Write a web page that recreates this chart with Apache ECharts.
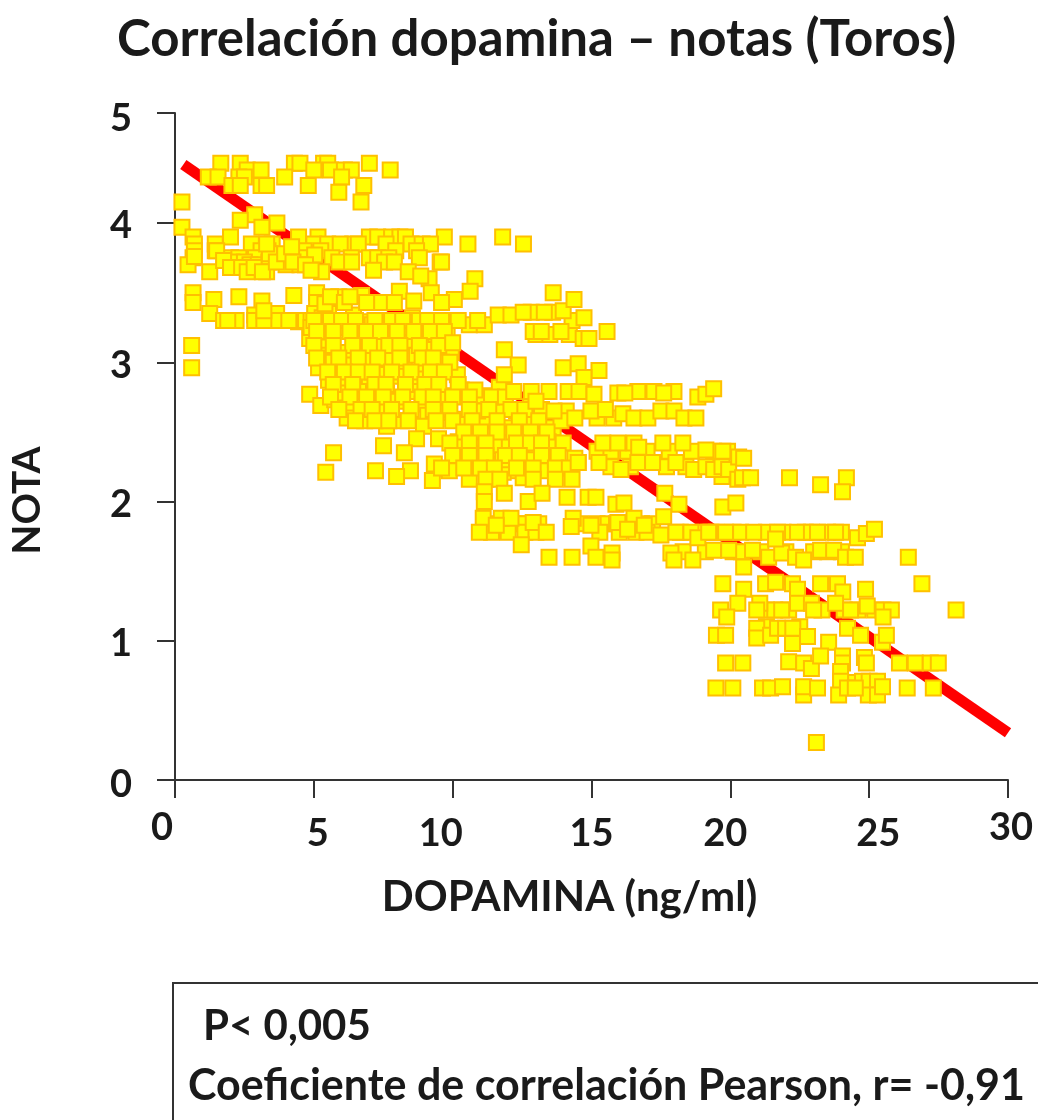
<!DOCTYPE html>
<html>
<head>
<meta charset="utf-8">
<script src="https://cdn.jsdelivr.net/npm/echarts@6/dist/echarts.min.js"></script>
<style>
  html, body { margin: 0; background: #fff; }
  #chart { width: 1038px; height: 1120px; }
</style>
</head>
<body>
<div id="chart"></div>
<script>
// valores: [dopamina, nota]
const puntosArriba = [
  [1.65,4.43],[2.35,4.43],[4.3,4.43],[4.5,4.43],[5.35,4.43],[5.5,4.43],[7.0,4.43],
  [2.6,4.38],[3.1,4.38],[5.0,4.38],[5.6,4.38],[6.1,4.38],[6.35,4.38],[7.75,4.38],
  [1.2,4.33],[1.55,4.33],[2.3,4.33],[2.5,4.33],[3.95,4.33],[6.0,4.33],
  [2.05,4.27],[2.35,4.27],[3.1,4.27],[3.3,4.27],[4.8,4.27],[6.8,4.27],
  [5.9,4.22],[6.7,4.15],[0.25,4.15],[2.87,4.06],[2.35,4.02],[3.67,4.0],[0.25,3.97],[3.13,3.97]
]
const puntosIzquierda = [
  [0.65,3.9],[2.0,3.9],[4.45,3.9],[5.15,3.9],[7.0,3.9],[7.3,3.9],[7.8,3.9],[8.1,3.9],[8.3,3.9],[9.7,3.9],[11.8,3.9],
  [0.7,3.85],[1.45,3.85],[2.75,3.85],[3.5,3.85],[5.0,3.85],[5.5,3.85],[6.4,3.85],[5.95,3.85],[6.6,3.85],[7.6,3.85],[8.5,3.85],[8.9,3.85],[9.2,3.85],[10.55,3.85],[12.55,3.85],
  [0.7,3.8],[1.45,3.8],[3.1,3.8],[3.35,3.8],[4.65,3.8],[5.25,3.8],[7.95,3.8],[8.7,3.8],
  [0.65,3.75],[2.0,3.75],[2.3,3.75],[2.9,3.75],[3.5,3.75],[4.1,3.75],[4.5,3.75],[5.03,3.77],[5.65,3.75],[6.35,3.75],[7.0,3.75],[7.3,3.75],[7.7,3.75],[8.8,3.75],[9.55,3.72],
  [0.47,3.7],[2.05,3.72],[2.5,3.72],[2.7,3.7],[3.0,3.7],[3.38,3.72],[4.0,3.7],[4.5,3.7],[5.9,3.72],[6.36,3.72],[7.55,3.72],[7.9,3.72],[9.6,3.72],
  [1.25,3.65],[3.3,3.65],[5.28,3.65],[7.15,3.66],[8.4,3.65],[9.15,3.6],[10.8,3.6],[8.85,3.62],
  [0.65,3.5],[0.65,3.43],[1.4,3.45],[2.3,3.47],[3.13,3.44],[4.28,3.48],[5.1,3.5],[5.1,3.43],[5.9,3.47],[6.72,3.48],[8.08,3.51],[9.23,3.5],[10.06,3.45],[10.63,3.51],[7.44,3.43],[7.9,3.43],[8.6,3.44],[9.6,3.43],
  [1.25,3.35],[1.75,3.3],[2.05,3.3],[2.87,3.34],[2.87,3.3],[3.66,3.35],[3.66,3.3],[4.45,3.29],[5.03,3.35],[5.53,3.35],[6.43,3.34],[6.97,3.29],[8.55,3.32],[9.3,3.28],[9.8,3.22],[10.6,3.27],[11.14,3.27],
  [0.6,3.12],[0.6,2.96],
  [0.7,3.76],[1.5,3.8],[1.75,3.73],[2.0,3.68],[2.4,3.68],[2.6,3.65],[2.85,3.68],[3.15,3.65],[3.4,3.78],[3.65,3.72],[3.95,3.78],[4.25,3.72],[4.2,3.83],[4.7,3.7],[4.9,3.66],[3.3,3.85],
  [3.2,3.3],[2.2,3.3],[1.9,3.3],[3.2,3.37],[4.1,3.3],[4.7,3.3],[4.9,3.3],[5.3,3.32],[5.4,3.42],[5.6,3.47],[6.1,3.43],[6.3,3.47],[6.9,3.43]
]
const puntosCentro = [
  [4.85,3.17],[5.39,3.11],[6.14,3.07],[6.83,3.15],[7.37,3.12],[7.87,3.22],[8.41,3.14],[9.13,3.13],[9.95,3.07],
  [4.9,3.25],[5.5,3.22],[6.1,3.25],[6.6,3.2],[7.1,3.27],[7.6,3.3],[8.2,3.25],[8.9,3.22],[9.4,3.2],
  [5.17,2.96],[5.89,2.96],[6.76,2.97],[7.44,2.95],[8.26,2.95],[9.0,2.95],[9.34,2.95],[10.17,2.91],
  [5.3,3.05],[5.7,3.0],[6.3,2.98],[7.0,3.03],[7.7,3.02],[8.7,3.05],[9.6,3.0],[8.0,2.9],[8.7,2.88],[6.2,2.88],[7.0,2.88],[5.53,2.87],
  [4.85,2.77],[5.25,2.69],[5.75,2.73],[6.61,2.79],[6.36,2.66],[7.33,2.78],[7.62,2.78],[8.16,2.58],[6.83,2.58],[7.62,2.54],[7.44,2.66],[8.6,2.79],[9.67,2.76],[10.31,2.8],[11.1,2.76],[11.68,2.82],[6.2,2.6],[7.0,2.7],[8.0,2.72],[8.9,2.7],[9.1,2.62],[6.0,2.78],
  [9.6,2.64],[8.95,2.54],[10.38,2.59],[11.14,2.58],[11.97,2.53],[12.9,2.59],[13.62,2.53],[14.09,2.65],[10.9,2.65],[11.6,2.66],[12.3,2.65],[12.8,2.68],
  [8.7,2.45],[7.51,2.4],[8.26,2.35],[5.71,2.35],[9.49,2.45],[10.2,2.43],[10.92,2.45],[12.0,2.42],[13.44,2.43],[13.98,2.42],[11.5,2.4],[12.6,2.38],[13.0,2.33],
  [7.22,2.22],[5.43,2.21],[8.48,2.22],[7.98,2.18],[9.34,2.27],[10.13,2.25],[11.28,2.27],[12.04,2.22],[13.37,2.22],[14.52,2.28],[9.27,2.15],[9.88,2.22],[10.6,2.16],[12.54,2.17],[11.82,2.21],[10.6,2.3],[11.8,2.3],[12.8,2.3],[13.7,2.3]
]
const puntosDensos = [
  [5.0,3.3],[5.6,3.3],[6.0,3.3],[6.5,3.3],[7.2,3.3],[7.8,3.3],[8.2,3.3],[8.8,3.3],[9.1,3.3],[9.6,3.3],[10.2,3.3],[10.9,3.3],
  [5.1,3.22],[5.7,3.22],[6.3,3.22],[6.9,3.22],[7.4,3.22],[8.0,3.22],[8.6,3.22],[9.2,3.22],[9.7,3.22],
  [5.0,3.12],[5.7,3.12],[6.4,3.12],[7.0,3.12],[7.7,3.12],[8.1,3.12],[8.8,3.12],[9.5,3.12],[10.0,3.14],
  [5.1,3.03],[5.9,3.03],[6.6,3.03],[7.3,3.03],[8.1,3.03],[8.9,3.03],[9.3,3.03],[9.9,3.0],
  [5.5,2.93],[6.1,2.93],[6.6,2.93],[7.1,2.93],[7.8,2.93],[8.5,2.93],[9.2,2.93],[9.7,2.93],
  [5.7,2.84],[6.4,2.84],[7.2,2.84],[7.6,2.84],[8.3,2.84],[9.0,2.84],[9.5,2.84],[10.2,2.84],[10.8,2.8],
  [5.6,2.75],[6.3,2.75],[6.9,2.75],[7.5,2.75],[8.2,2.75],[8.9,2.75],[9.3,2.75],[10.0,2.75],[10.6,2.75],[11.4,2.75],[11.9,2.75],
  [5.9,2.66],[6.7,2.66],[7.1,2.66],[7.8,2.66],[8.5,2.66],[9.3,2.66],[9.9,2.66],[10.6,2.66],[11.3,2.66],[12.1,2.66],[12.6,2.66],[13.2,2.66],
  [6.5,2.58],[7.2,2.58],[7.7,2.58],[8.4,2.58],[9.4,2.58],[10.0,2.58],[10.7,2.58],[11.6,2.58],[12.4,2.58],[13.1,2.58],[13.9,2.58],
  [10.4,2.5],[11.0,2.5],[11.6,2.5],[12.2,2.5],[12.8,2.5],[13.4,2.5],
  [9.9,2.42],[10.6,2.42],[11.2,2.42],[12.3,2.42],[12.8,2.42],[13.2,2.42],
  [10.0,2.33],[10.6,2.33],[11.2,2.33],[11.9,2.33],[12.4,2.33],[13.2,2.33],[13.8,2.33],[14.4,2.31],
  [9.6,2.24],[10.4,2.24],[11.0,2.24],[11.5,2.24],[12.3,2.24],[12.9,2.24],[13.7,2.24],[14.2,2.24],
  [11.2,2.16],[11.7,2.16],[12.9,2.16],[13.7,2.16],[14.3,2.16],
  [11.3,1.84],[11.9,1.84],[12.3,1.84],[12.6,1.84],[13.1,1.84],[14.6,1.84],[15.2,1.84],[15.6,1.84],[15.9,1.84],[16.8,1.84],[17.2,1.84],
  [11.4,1.78],[12.0,1.78],[12.6,1.78],[13.0,1.78],[15.3,1.78],[16.0,1.78],[16.6,1.78],[17.0,1.78],
  [14.4,2.6],[15.2,2.6],[15.8,2.6],[13.0,3.2],[13.5,3.2],[14.2,3.2],[13.6,3.36],[14.3,3.3],
  [15.2,2.36],[15.7,2.36],[16.3,2.36],[17.0,2.36],[17.8,2.36],[18.6,2.36],[19.4,2.36],[19.9,2.36],
  [15.7,2.25],[16.4,2.25],[17.7,2.25],[18.4,2.25],[19.7,2.18],
  [18.3,1.64],[19.1,1.64],[20.1,1.64],[20.4,1.64],[21.1,1.64],[22.0,1.64],[23.0,1.64],[23.5,1.64],[24.0,1.64],
  [18.2,1.78],[19.0,1.78],[19.5,1.78],[20.1,1.78],[21.3,1.78],[21.9,1.78],[22.7,1.78],[23.5,1.78],[24.0,1.78],
  [21.3,1.22],[21.6,1.22],[22.1,1.22],[23.3,1.22],[24.1,1.22],[24.6,1.22],[25.2,1.22],[21.3,1.1],[22.5,1.1],[24.3,0.7],[25.1,0.7]
]
const puntosDerecha = [
  [11.64,3.34],[12.1,3.34],[12.83,3.36],[13.3,3.36],[13.98,3.37],[14.73,3.32],[13.62,3.5],[14.37,3.45],[12.54,3.36],
  [12.9,3.22],[13.19,3.22],[13.9,3.22],[14.7,3.17],[14.91,3.17],[15.56,3.22],[11.86,3.09],[12.36,2.98],[13.98,2.96],[14.52,2.99],[15.27,2.94],[14.73,2.89],[11.86,2.91],
  [12.2,2.79],[12.83,2.79],[13.47,2.79],[14.16,2.79],[14.55,2.79],[15.09,2.77],[15.95,2.78],[16.67,2.79],[17.25,2.79],[17.97,2.79],[18.83,2.75],[19.12,2.77],[19.4,2.81],[16.2,2.78],[17.6,2.78],
  [13.65,2.65],[13.0,2.72],[14.98,2.65],[16.13,2.63],[16.53,2.6],[17.03,2.6],[17.5,2.65],[17.97,2.65],[18.33,2.6],[18.76,2.6],[15.5,2.66],
  [15.41,2.42],[15.95,2.42],[16.53,2.42],[16.7,2.39],[17.57,2.42],[18.29,2.42],[19.12,2.37],[19.73,2.36],
  [14.52,2.28],[15.27,2.28],[16.06,2.23],[16.67,2.28],[17.2,2.28],[18.04,2.28],[18.68,2.23],[19.12,2.25],[19.4,2.23],[19.7,2.25],[19.94,2.23],[20.3,2.32],[20.27,2.16],[20.48,2.31],[20.44,2.17],[20.73,2.17],[22.13,2.17],[23.25,2.12],[24.18,2.17],[24.04,2.07]
]
const puntosBajos = [
  [14.12,2.03],[11.14,2.07],[11.14,2.0],[11.86,2.06],[12.72,2.0],[13.22,2.06],[14.88,2.03],[15.16,2.03],[15.88,1.98],[16.17,1.99],[17.64,2.06],[18.15,1.98],[19.73,1.96],[20.2,1.99],
  [11.1,1.88],[10.96,1.78],[11.75,1.88],[12.1,1.88],[11.57,1.83],[12.9,1.85],[13.37,1.78],[12.47,1.69],[14.34,1.88],[14.27,1.82],[14.98,1.83],[15.95,1.85],[16.53,1.88],[16.3,1.8],[16.9,1.83],[17.6,1.89],[17.5,1.76],
  [18.04,1.78],[18.58,1.78],[19.3,1.78],[19.83,1.78],[18.83,1.74],[19.22,1.78],[20.37,1.78],[20.84,1.78],[21.7,1.78],[22.42,1.78],[22.92,1.78],[23.14,1.78],[23.79,1.78],[24.58,1.74],[24.9,1.77],[25.19,1.8],
  [13.47,1.6],[14.3,1.6],[14.98,1.68],[15.16,1.6],[15.74,1.63],[15.74,1.58],[17.86,1.63],[17.97,1.58],[18.65,1.58],[19.4,1.65],[19.94,1.65],[20.8,1.65],[20.48,1.53],[21.38,1.6],[21.85,1.63],[21.63,1.73],[22.35,1.6],[22.64,1.58],[23.25,1.65],[23.72,1.65],[24.15,1.6],[24.5,1.6],[26.41,1.6],[26.9,1.41],[28.13,1.22],
  [19.73,1.41],[20.48,1.37],[21.27,1.41],[21.63,1.42],[22.24,1.41],[22.42,1.37],[23.25,1.41],[23.86,1.41],[24.05,1.35],[24.87,1.37],
  [19.65,1.22],[20.27,1.27],[19.87,1.17],[21.06,1.27],[20.95,1.22],[21.85,1.22],[22.42,1.27],[22.92,1.27],[23.0,1.22],[23.79,1.27],[24.33,1.22],[24.93,1.25],[25.5,1.22],[25.8,1.22],[25.5,1.17],
  [20.95,1.09],[20.95,1.02],[21.45,1.04],[21.7,1.09],[21.99,1.09],[22.25,1.09],[22.24,0.98],[22.78,1.03],[23.54,0.99],[24.22,1.09],[24.69,1.04],[25.48,0.99],[25.62,1.04],[19.5,1.04],[19.83,1.04],
  [19.83,0.84],[20.45,0.84],[22.1,0.85],[22.64,0.84],[22.92,0.8],[23.25,0.89],[24.04,0.89],[24.04,0.84],[23.97,0.78],[24.83,0.88],[24.9,0.84],[26.09,0.84],[26.66,0.84],[27.2,0.84],[27.49,0.84],
  [19.48,0.66],[20.09,0.66],[21.16,0.66],[21.45,0.66],[21.88,0.67],[22.64,0.61],[22.64,0.67],[23.14,0.66],[23.97,0.71],[23.9,0.61],[24.76,0.71],[25.0,0.71],[25.3,0.71],[24.97,0.61],[25.3,0.61],[25.48,0.67],[26.37,0.66],[27.31,0.66],[24.22,0.66],[24.5,0.66],[23.1,0.27]
]

const trendX = [0.3, 30]
const trendY = [4.42, 0.34]

const xTicks = [0, 5, 10, 15, 20, 25, 30]
// la marca "5" del original esta dibujada mas abajo de donde caeria en la escala
const yTicks = [0, 1, 2, 3, 4, 4.79]
const yLabels = ["0", "1", "2", "3", "4", "5"]

const FONT = "Lato"
const INK = "#1a1a1a"

const chart = echarts.init(document.getElementById("chart"), null, { renderer: "canvas" })

const puntos = [...puntosArriba, ...puntosIzquierda, ...puntosCentro, ...puntosDensos, ...puntosDerecha, ...puntosBajos]

const tick = padding => ({ fontFamily: FONT, fontWeight: 700, fontSize: 38, color: INK, padding })

chart.setOption({
  animation: false,
  backgroundColor: "#fff",
  title: {
    text: "Correlación dopamina – notas (Toros)",
    left: 112,
    top: 9,
    textStyle: { fontFamily: FONT, fontWeight: 700, fontSize: 51, color: INK },
  },
  grid: { left: 173, right: 30, top: 113, bottom: 340 },
  xAxis: {
    type: "value",
    min: 0,
    max: 30,
    interval: 5,
    name: "DOPAMINA (ng/ml)",
    nameLocation: "middle",
    nameGap: 96,
    nameTextStyle: { fontFamily: FONT, fontWeight: 700, fontSize: 42, color: INK, padding: [0, 44, 0, 0] },
    splitLine: { show: false },
    axisLine: { lineStyle: { color: "#333", width: 2 } },
    axisTick: { length: 18, lineStyle: { color: "#333", width: 2 } },
    axisLabel: {
      margin: 29,
      showMinLabel: true,
      showMaxLabel: true,
      fontFamily: FONT, fontWeight: 700, fontSize: 38, color: INK,
      formatter: v => `{t${v}|${v}}`,
      rich: {
        t0: tick([0, 26, 0, 0]),
        t5: tick([6, 0, 0, 8]),
        t10: tick([6, 24, 0, 0]),
        t15: tick([6, 0, 0, 0]),
        t20: tick([6, 10, 0, 0]),
        t25: tick([6, 0, 0, 18]),
        t30: tick([0, 0, 0, 6]),
      },
    },
  },
  yAxis: {
    type: "value",
    min: 0,
    max: yTicks[5],
    name: "NOTA",
    nameLocation: "middle",
    nameGap: 128,
    nameTextStyle: { fontFamily: FONT, fontWeight: 700, fontSize: 39, color: INK, padding: [0, 108, 0, 0] },
    splitLine: { show: false },
    axisLine: { lineStyle: { color: "#333", width: 2 } },
    axisTick: { length: 18, customValues: yTicks, lineStyle: { color: "#333", width: 2 } },
    axisLabel: {
      margin: 43,
      customValues: yTicks,
      fontFamily: FONT, fontWeight: 700, fontSize: 38, color: INK,
      formatter: v => {
        const label = yLabels[yTicks.indexOf(v)]
        return `{n${label}|${label}}`
      },
      rich: {
        n0: tick([10, 0, 0, 0]),
        n1: tick([6, 0, 0, 0]),
        n2: tick([6, 0, 0, 0]),
        n3: tick([6, 0, 0, 0]),
        n4: tick([6, 0, 0, 0]),
        n5: tick([12, 0, 0, 0]),
      },
    },
  },
  series: [
    {
      type: "line",
      data: [[trendX[0], trendY[0]], [trendX[1], trendY[1]]],
      showSymbol: false,
      silent: true,
      z: 1,
      lineStyle: { color: "#ff0000", width: 11, cap: "butt" },
    },
    {
      type: "scatter",
      data: puntos,
      symbol: "rect",
      symbolSize: 15,
      z: 2,
      itemStyle: { color: "#ffff00", borderColor: "#ffc000", borderWidth: 2, opacity: 1 },
    },
  ],
  graphic: [
    {
      type: "rect",
      left: 172,
      top: 982,
      shape: { width: 1000, height: 300 },
      style: { fill: "#fff", stroke: "#333", lineWidth: 2 },
    },
    {
      type: "text",
      left: 203,
      top: 1005,
      style: { text: "P< 0,005", fontFamily: FONT, fontWeight: 700, fontSize: 42, fill: INK },
    },
    {
      type: "text",
      left: 188,
      top: 1065,
      style: { text: "Coeficiente de correlación Pearson, r= -0,91", fontFamily: FONT, fontWeight: 700, fontSize: 43, fill: INK },
    },
  ],
})
</script>
</body>
</html>
